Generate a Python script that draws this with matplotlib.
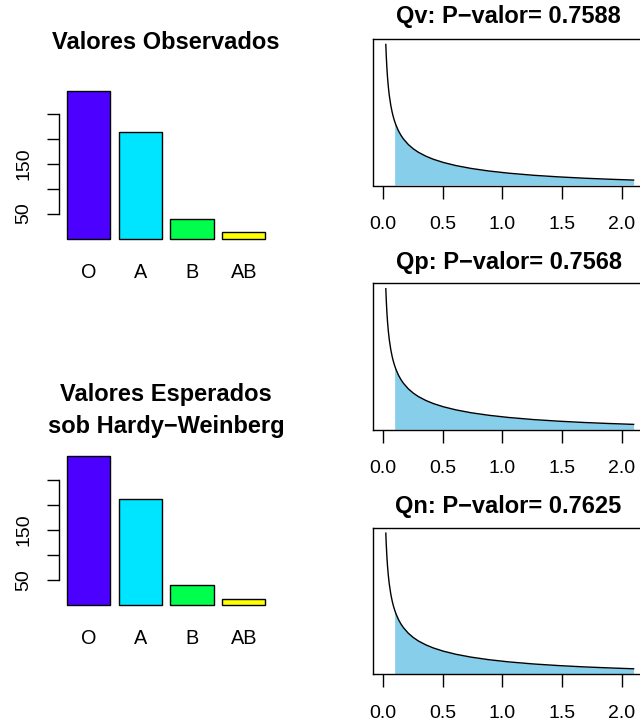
import numpy as np
import matplotlib
matplotlib.use("Agg")
import matplotlib.pyplot as plt

plt.rcParams['font.family'] = ['Liberation Sans', 'DejaVu Sans']

# blood groups, observed and expected (Hardy-Weinberg) counts
groups = ['O', 'A', 'B', 'AB']
observed = [295, 213, 39, 14]
expected = [297.4, 212.6, 39.4, 11.6]
bar_colors = ['#4C00FF', '#00E5FF', '#00FF4D', '#FFFF00']
y_ticks = [50, 100, 150, 200, 250]
y_ticklabels = ['50', '', '150', '', '']

# chi-square (1 df) curve
curve_x = [0.021, 0.025, 0.03, 0.035, 0.042, 0.05, 0.063, 0.075, 0.084, 0.095,
           0.105, 0.126, 0.147, 0.168, 0.21, 0.252, 0.294, 0.357, 0.42, 0.504,
           0.609, 0.735, 0.882, 1.05, 1.26, 1.47, 1.68, 1.89, 2.1]
curve_y = [2.724, 2.492, 2.269, 2.095, 1.906, 1.740, 1.540, 1.403, 1.320, 1.234,
           1.168, 1.055, 0.967, 0.895, 0.784, 0.701, 0.635, 0.559, 0.499, 0.437,
           0.377, 0.322, 0.273, 0.230, 0.189, 0.158, 0.133, 0.113, 0.096]
stat_names = ['Qv', 'Qp', 'Qn']
p_values = ['0.7588', '0.7568', '0.7625']
stat_values = [0.095, 0.095, 0.095]
x_ticks = [0.0, 0.5, 1.0, 1.5, 2.0]

W, H = 640, 727
fig = plt.figure(figsize=(W / 100, H / 100), dpi=100)


def px_axes(x0, y0, x1, y1):
    return fig.add_axes([x0 / W, 1 - y1 / H, (x1 - x0) / W, (y1 - y0) / H])


def bar_panel(values, base, title_lines, baselines):
    m = max(values)
    s = 0.5
    ax = px_axes(58.7, base - 1.04 * m * s, 273.4, base + 0.04 * m * s)
    xpos = [0.7 + 1.2 * i for i in range(len(values))]
    ax.bar(xpos, values, width=1.0, color=bar_colors, edgecolor='black', linewidth=1.0)
    ax.set_xlim(0.016, 4.984)
    ax.set_ylim(-0.04 * m, 1.04 * m)
    for sp in ['top', 'right', 'bottom']:
        ax.spines[sp].set_visible(False)
    ax.spines['left'].set_bounds(50, 250)
    ax.spines['left'].set_linewidth(1.0)
    ax.set_yticks(y_ticks)
    ax.set_yticklabels(y_ticklabels, rotation=90, va='center')
    ax.tick_params(axis='y', length=9, width=1.0, pad=10, labelsize=14)
    ax.set_xticks(xpos)
    ax.set_xticklabels(groups)
    ax.tick_params(axis='x', length=0, pad=13.3, labelsize=14.3)
    for line, yb in zip(title_lines, baselines):
        fig.text(166 / W, 1 - yb / H, line, ha='center', va='baseline',
                 fontsize=17, fontweight='bold')


bar_panel(observed, 238.5, ['Valores Observados'], [49.3])
bar_panel(expected, 605.0, ['Valores Esperados', 'sob Hardy\u2212Weinberg'], [400.7, 433.3])

cx = np.array(curve_x)
cy = np.array(curve_y)
r = cy.max() - cy.min()
box_tops = [39.0, 283.3, 527.7]
title_base = [23.5, 268.5, 513.5]
for i in range(3):
    ax = px_axes(373.3, box_tops[i], 643.6, box_tops[i] + 146.5)
    ax.fill_between(cx, 0, cy, where=cx >= stat_values[i], color='#87CEEB',
                    linewidth=0)
    ax.plot(cx, cy, color='black', linewidth=1.0)
    ax.set_xlim(-0.084, 2.184)
    ax.set_ylim(cy.min() - 0.04 * r, cy.max() + 0.04 * r)
    ax.set_yticks([])
    ax.set_xticks(x_ticks)
    ax.set_xticklabels(['%.1f' % t for t in x_ticks])
    ax.tick_params(axis='x', length=9, width=1.0, pad=13, labelsize=14)
    for sp in ax.spines.values():
        sp.set_linewidth(1.0)
    fig.text(508.5 / W, 1 - title_base[i] / H,
             '%s: P\u2212valor= %s' % (stat_names[i], p_values[i]),
             ha='center', va='baseline', fontsize=17, fontweight='bold')

fig.savefig('out.png', dpi=100)
